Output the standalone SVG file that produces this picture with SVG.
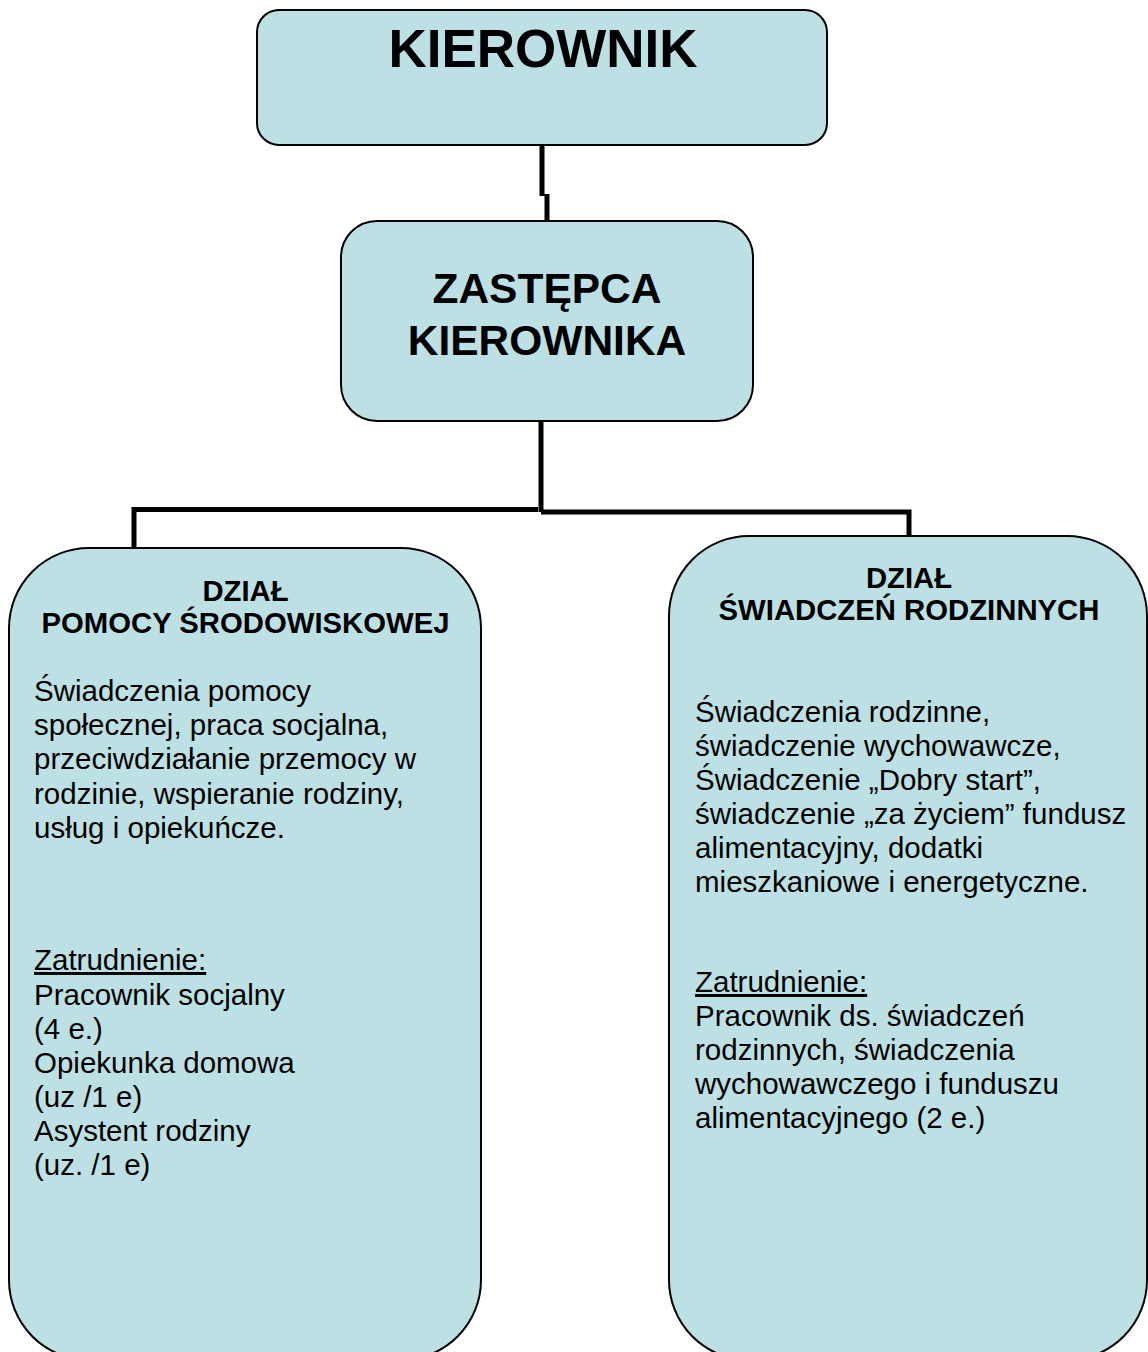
<svg xmlns="http://www.w3.org/2000/svg" width="1148" height="1352" viewBox="0 0 1148 1352">
<style>
.box{fill:#bce0e4;stroke:#000;stroke-width:2}
.conn{fill:none;stroke:#000;stroke-width:5}
text{font-family:"Liberation Sans",Arial,sans-serif;fill:#000}
.h{font-weight:bold;text-anchor:middle}
.b{font-size:29.5px}
.u{text-decoration:underline}
</style>
<rect width="1148" height="1352" fill="#fff"/>
<g id="connectors">
<path class="conn" d="M542 145 V196 M547 194 V222"/>
<path class="conn" d="M541 421 V512 M538 509.5 H134 V548 M541 512 H909 V536"/>
</g>
<g id="kierownik">
<rect class="box" x="257" y="10" width="570" height="135" rx="22" ry="22"/>
<text class="h" x="543" y="67" font-size="53">KIEROWNIK</text>
</g>
<g id="zastepca">
<rect class="box" x="341" y="221" width="412" height="200" rx="36" ry="36"/>
<text class="h" x="547" y="303" font-size="42.5">ZASTĘPCA</text>
<text class="h" x="547" y="355" font-size="42.5">KIEROWNIKA</text>
</g>
<g id="dzial-pomocy">
<rect class="box" x="9" y="548" width="472" height="812" rx="80" ry="80"/>
<text class="h" x="245.5" y="601" font-size="29.3">DZIAŁ</text>
<text class="h" x="245.5" y="633" font-size="29.3">POMOCY ŚRODOWISKOWEJ</text>
<text class="b" x="34" y="700.5">Świadczenia pomocy</text>
<text class="b" x="34" y="735">społecznej, praca socjalna,</text>
<text class="b" x="34" y="769">przeciwdziałanie przemocy w</text>
<text class="b" x="34" y="803.5">rodzinie, wspieranie rodziny,</text>
<text class="b" x="34" y="837.5">usług i opiekuńcze.</text>
<text class="b u" x="34" y="970">Zatrudnienie:</text>
<text class="b" x="34" y="1005">Pracownik socjalny</text>
<text class="b" x="34" y="1039">(4 e.)</text>
<text class="b" x="34" y="1073">Opiekunka domowa</text>
<text class="b" x="34" y="1107">(uz /1 e)</text>
<text class="b" x="34" y="1141">Asystent rodziny</text>
<text class="b" x="34" y="1175">(uz. /1 e)</text>
</g>
<g id="dzial-swiadczen">
<rect class="box" x="669" y="536" width="478" height="824" rx="80" ry="80"/>
<text class="h" x="909" y="588" font-size="29.3">DZIAŁ</text>
<text class="h" x="909" y="620" font-size="29.3">ŚWIADCZEŃ RODZINNYCH</text>
<text class="b" x="695" y="722">Świadczenia rodzinne,</text>
<text class="b" x="695" y="756">świadczenie wychowawcze,</text>
<text class="b" x="695" y="790">Świadczenie „Dobry start”,</text>
<text class="b" x="695" y="824">świadczenie „za życiem” fundusz</text>
<text class="b" x="695" y="858">alimentacyjny, dodatki</text>
<text class="b" x="695" y="892">mieszkaniowe i energetyczne.</text>
<text class="b u" x="695" y="992">Zatrudnienie:</text>
<text class="b" x="695" y="1026">Pracownik ds. świadczeń</text>
<text class="b" x="695" y="1060">rodzinnych, świadczenia</text>
<text class="b" x="695" y="1094">wychowawczego i funduszu</text>
<text class="b" x="695" y="1128">alimentacyjnego (2 e.)</text>
</g>
</svg>
